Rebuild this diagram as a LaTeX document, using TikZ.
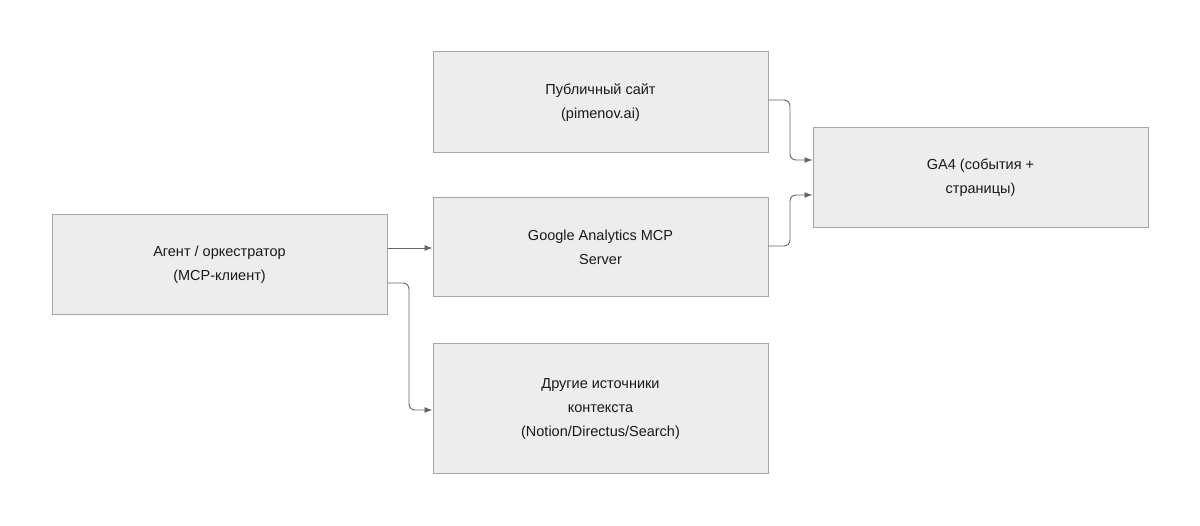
\documentclass[tikz,border=0pt]{standalone}
\usepackage{fontspec}
\setmainfont{Liberation Sans}
\usetikzlibrary{arrows.meta}
\begin{document}
\begin{tikzpicture}[x=1pt,y=-1pt,
  box/.style={draw=black!35,fill=black!7,line width=1pt,minimum width=335pt,align=center,font=\fontsize{14.5}{24}\selectfont,text=black!90},
  conn/.style={draw=black!60,line width=0.9pt,-{Latex[length=8pt,width=6pt]},rounded corners=6pt}]
\useasboundingbox (0,0) rectangle (1200,526);
\node[box,minimum height=100pt] (agent) at (219.5,265) {Агент / оркестратор\\(MCP-клиент)};
\node[box,minimum height=101pt] (site) at (600.5,102.5) {Публичный сайт\\(pimenov.ai)};
\node[box,minimum height=99pt] (mcp) at (600.5,247.5) {Google Analytics MCP\\Server};
\node[box,minimum height=130pt] (other) at (600.5,409) {Другие источники\\контекста\\(Notion/Directus/Search)};
\node[box,minimum height=100pt] (ga4) at (980.5,178) {GA4 (события +\\страницы)};
\coordinate (a1) at (agent.east |- 0,248);
\coordinate (b1) at (mcp.west |- 0,248);
\draw[conn] (a1) -- (b1);
\coordinate (a2) at (agent.east |- 0,283);
\coordinate (b2) at (other.west |- 0,410);
\draw[conn] (a2) -- (409,283) -- (409,410) -- (b2);
\coordinate (s1) at (site.east |- 0,100);
\coordinate (g1) at (ga4.west |- 0,160);
\draw[conn] (s1) -- (790,100) -- (790,160) -- (g1);
\coordinate (m1) at (mcp.east |- 0,246);
\coordinate (g2) at (ga4.west |- 0,195);
\draw[conn] (m1) -- (790,246) -- (790,195) -- (g2);
\end{tikzpicture}
\end{document}
